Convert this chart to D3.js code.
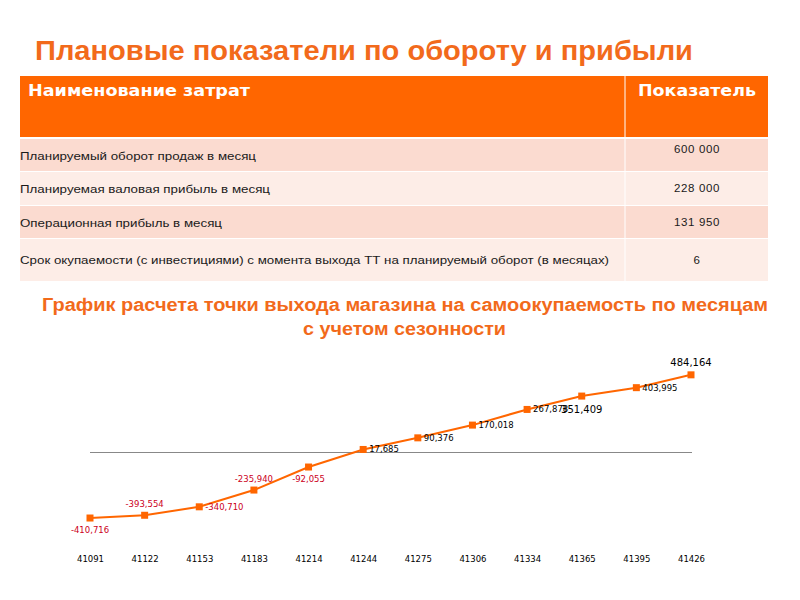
<!DOCTYPE html>
<html><head><meta charset="utf-8">
<script src="https://cdn.jsdelivr.net/npm/d3@7"></script>
<style>body{margin:0;background:#fff}svg{display:block}</style>
</head><body>
<svg id="c" width="800" height="600"></svg>
<script>
const title = "Плановые показатели по обороту и прибыли";
const tableHeader = ["Наименование затрат", "Показатель"];
const rowNames = [
  "Планируемый оборот продаж в месяц",
  "Планируемая валовая прибыль в месяц",
  "Операционная прибыль в месяц",
  "Срок окупаемости (с инвестициями) с момента выхода ТТ на планируемый оборот (в месяцах)"
];
const rowValues = ["600  000", "228 000", "131 950", "6"];
const chartTitle = ["График расчета точки выхода магазина на самоокупаемость по месяцам", "с учетом сезонности"];
const months = ["41091","41122","41153","41183","41214","41244","41275","41306","41334","41365","41395","41426"];
const balance = [-410716,-393554,-340710,-235940,-92055,17685,90376,170018,267878,351409,403995,484164];
const labelPlacement = ["below","above","right","above","below","right","right","right","right","belowBig","right","aboveBig"];

const svg = d3.select("#c");
const orange = "#ff6600";
const titleColor = "#f26a1b";

// Title
svg.append("text").attr("x",35).attr("y",60).attr("fill",titleColor)
  .attr("font-family","Liberation Sans, Arial, sans-serif").attr("font-weight","bold")
  .attr("font-size",27).attr("textLength",658).attr("lengthAdjust","spacingAndGlyphs").text(title);

// Table
const tx0 = 20, tx1 = 768, tdiv = 625;
svg.append("rect").attr("x",tx0).attr("y",76).attr("width",tx1-tx0).attr("height",61).attr("fill",orange);
svg.append("line").attr("x1",tdiv).attr("x2",tdiv).attr("y1",76).attr("y2",281).attr("stroke","#fff").attr("stroke-width",1);
svg.append("text").attr("x",28).attr("y",96).attr("fill","#fff").attr("font-family","DejaVu Sans, sans-serif")
  .attr("font-weight","bold").attr("font-size",15).attr("textLength",222).attr("lengthAdjust","spacingAndGlyphs").text(tableHeader[0]);
svg.append("text").attr("x",638).attr("y",96).attr("fill","#fff").attr("font-family","DejaVu Sans, sans-serif")
  .attr("font-weight","bold").attr("font-size",15).attr("textLength",118).attr("lengthAdjust","spacingAndGlyphs").text(tableHeader[1]);

const rowTop = [139, 172, 206, 239];
const rowBot = [171, 205, 238, 281];
const rowFill = ["#fbdbd0", "#fdede7", "#fbdbd0", "#fdede7"];
const rowTextY = [160, 193, 227, 264];
const valTextY = [153, 192, 226, 264];
const rowTextLen = [236, 250, 202, 589];
rowNames.forEach((n,i)=>{
  svg.append("rect").attr("x",tx0).attr("y",rowTop[i]).attr("width",tx1-tx0).attr("height",rowBot[i]-rowTop[i]).attr("fill",rowFill[i]);
  svg.append("text").attr("x",20).attr("y",rowTextY[i]).attr("fill","#1a1a1a")
    .attr("font-family","Liberation Sans Narrow, Liberation Sans, sans-serif").attr("font-size",11.5)
    .attr("textLength",rowTextLen[i]).attr("lengthAdjust","spacingAndGlyphs").text(n);
  svg.append("text").attr("x",697).attr("y",valTextY[i]).attr("fill","#1a1a1a").attr("text-anchor","middle")
    .attr("font-family","Liberation Sans Narrow, Liberation Sans, sans-serif").attr("font-size",11.5)
    .attr("letter-spacing",0.6).text(rowValues[i]);
});
svg.selectAll(null).data([tdiv]).enter().append("line").attr("x1",d=>d).attr("x2",d=>d).attr("y1",137).attr("y2",281).attr("stroke","#fff");

// Chart title
svg.append("text").attr("x",42).attr("y",311).attr("fill",titleColor)
  .attr("font-family","Liberation Sans Narrow, Liberation Sans, sans-serif").attr("font-weight","bold")
  .attr("font-size",18).attr("textLength",726).attr("lengthAdjust","spacingAndGlyphs").text(chartTitle[0]);
svg.append("text").attr("x",303).attr("y",335).attr("fill",titleColor)
  .attr("font-family","Liberation Sans Narrow, Liberation Sans, sans-serif").attr("font-weight","bold")
  .attr("font-size",18).attr("textLength",203).attr("lengthAdjust","spacingAndGlyphs").text(chartTitle[1]);

// Chart
const x = d3.scalePoint().domain(months).range([90, 691]);
const y = d3.scaleLinear().domain([-500000, 500000]).range([532.3, 372.3]);

svg.append("line").attr("x1",x(months[0])).attr("x2",x(months[months.length-1])+1)
  .attr("y1",Math.round(y(0))+0.5).attr("y2",Math.round(y(0))+0.5).attr("stroke","#888").attr("stroke-width",1);

const xAxis = svg.append("g").attr("transform","translate(0,556)")
  .call(d3.axisBottom(x).tickSize(0).tickPadding(0));
xAxis.select(".domain").remove();
xAxis.selectAll("text").attr("font-family","DejaVu Sans, sans-serif").attr("font-size",8.5).attr("fill","#000").attr("dy","0.71em");

const line = d3.line().x((d,i)=>x(months[i])).y(d=>y(d));
svg.append("path").datum(balance).attr("d",line).attr("fill","none").attr("stroke",orange).attr("stroke-width",2);

svg.selectAll("rect.m").data(balance).enter().append("rect").attr("class","m")
  .attr("x",(d,i)=>x(months[i])-3.5).attr("y",d=>y(d)-3.5).attr("width",7).attr("height",7).attr("fill",orange);

const fmt = d3.format(",");
svg.selectAll("text.lbl").data(balance).enter().append("text").attr("class","lbl")
  .attr("font-family","DejaVu Sans, sans-serif")
  .attr("font-size",(d,i)=>labelPlacement[i].endsWith("Big")?10:8.5)
  .attr("fill",d=>d<0?"#cc0022":"#000")
  .attr("text-anchor",(d,i)=>labelPlacement[i]==="right"?"start":"middle")
  .attr("x",(d,i)=>{const p=labelPlacement[i]; const px=x(months[i]); return p==="right"?px+6:px;})
  .attr("y",(d,i)=>{const p=labelPlacement[i]; const py=y(d);
     if(p==="above") return py-8; if(p==="below") return py+15; if(p==="right") return py+3;
     if(p==="belowBig") return py+17; if(p==="aboveBig") return py-9; return py;})
  .text(d=>fmt(d).replace("−","-"));
</script>
</body></html>
